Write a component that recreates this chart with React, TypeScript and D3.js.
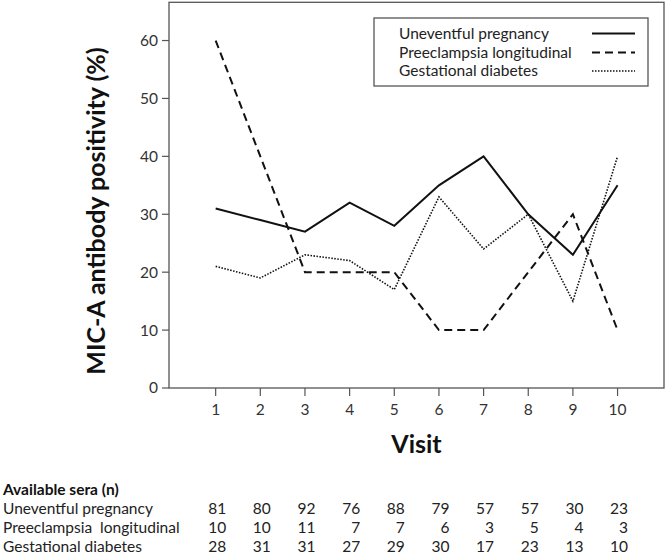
import React from 'react';
import * as d3 from 'd3';

const visits = [1, 2, 3, 4, 5, 6, 7, 8, 9, 10];
const uneventful = [31, 29, 27, 32, 28, 35, 40, 30, 23, 35];
const preeclampsia = [60, 40, 20, 20, 20, 10, 10, 20, 30, 10];
const gestational = [21, 19, 23, 22, 17, 33, 24, 30, 15, 40];
const yTicks = [0, 10, 20, 30, 40, 50, 60];
const seriesNames = ['Uneventful pregnancy', 'Preeclampsia longitudinal', 'Gestational diabetes'];
const tableTitle = 'Available sera (n)';
const tableRowLabels = ['Uneventful pregnancy', 'Preeclampsia  longitudinal', 'Gestational diabetes'];
const nUneventful = [81, 80, 92, 76, 88, 79, 57, 57, 30, 23];
const nPreeclampsia = [10, 10, 11, 7, 7, 6, 3, 5, 4, 3];
const nGestational = [28, 31, 31, 27, 29, 30, 17, 23, 13, 10];

const FONT = 'Lato, "Open Sans", sans-serif';

const styles = [
  { dash: null as string | null, width: 2 },
  { dash: '8,5', width: 2 },
  { dash: '1.5,1.5', width: 1.6 },
];

export default function App() {
  const W = 666, H = 556;
  const left = 169, right = 664, top = 2.3, bottom = 388;
  const x = d3.scaleLinear().domain([-0.045, 11.04]).range([left, right]);
  const y = d3.scaleLinear().domain([0, 66.6]).range([bottom, top]);
  const series = [uneventful, preeclampsia, gestational];
  const counts = [nUneventful, nPreeclampsia, nGestational];
  const line = d3.line<number>().x((_, i) => x(visits[i])).y((d) => y(d));

  const legX = 374, legY = 18, legW = 274, legH = 68;
  const legRowY = [33.5, 52.5, 71];
  const rowY = [508.5, 527.5, 546.5];

  return (
    <svg width={W} height={H} style={{ position: 'absolute', left: 0, top: 0, background: '#fff' }} fontFamily={FONT}>
      <rect x={left} y={top} width={right - left} height={bottom - top} fill="none" stroke="#555" strokeWidth={1.3} />
      {yTicks.map((t) => (
        <g key={t}>
          <line x1={left - 7} x2={left} y1={y(t)} y2={y(t)} stroke="#555" strokeWidth={1.2} />
          <text x={left - 11} y={y(t)} dy="0.35em" textAnchor="end" fontSize={15.5} fill="#333">{t}</text>
        </g>
      ))}
      {visits.map((v) => (
        <g key={v}>
          <line x1={x(v)} x2={x(v)} y1={bottom} y2={bottom + 8} stroke="#555" strokeWidth={1.2} />
          <text x={x(v)} y={bottom + 22} dy="0.35em" textAnchor="middle" fontSize={15.5} fill="#333">{v}</text>
        </g>
      ))}
      <text x={(left + right) / 2} y={453} textAnchor="middle" fontSize={25} fontWeight="bold" fill="#111">Visit</text>
      <text transform={`translate(105, 211) rotate(-90)`} textAnchor="middle" fontSize={25} fontWeight="bold" fill="#111">MIC-A antibody positivity (%)</text>

      {series.map((s, i) => (
        <path key={i} d={line(s) || ''} fill="none" stroke="#111" strokeWidth={styles[i].width}
          strokeDasharray={styles[i].dash || undefined} />
      ))}

      <rect x={legX} y={legY} width={legW} height={legH} fill="#fff" stroke="#555" strokeWidth={1.3} />
      {seriesNames.map((n, i) => (
        <g key={n}>
          <text x={399} y={legRowY[i]} dy="0.35em" fontSize={15.5} fill="#222">{n}</text>
          <line x1={592} x2={635} y1={legRowY[i]} y2={legRowY[i]} stroke="#111" strokeWidth={styles[i].width}
            strokeDasharray={styles[i].dash || undefined} />
        </g>
      ))}

      <text x={3} y={489.5} dy="0.35em" fontSize={15.5} fontWeight="bold" fill="#111">{tableTitle}</text>
      {tableRowLabels.map((lab, r) => (
        <g key={lab}>
          <text x={3} y={rowY[r]} dy="0.35em" fontSize={15.5} fill="#222" style={{ whiteSpace: 'pre' }}>{lab}</text>
          {counts[r].map((c, i) => (
            <text key={i} x={x(visits[i]) + 10.5} y={rowY[r]} dy="0.35em" textAnchor="end" fontSize={15.5} fill="#222">{c}</text>
          ))}
        </g>
      ))}
    </svg>
  );
}
